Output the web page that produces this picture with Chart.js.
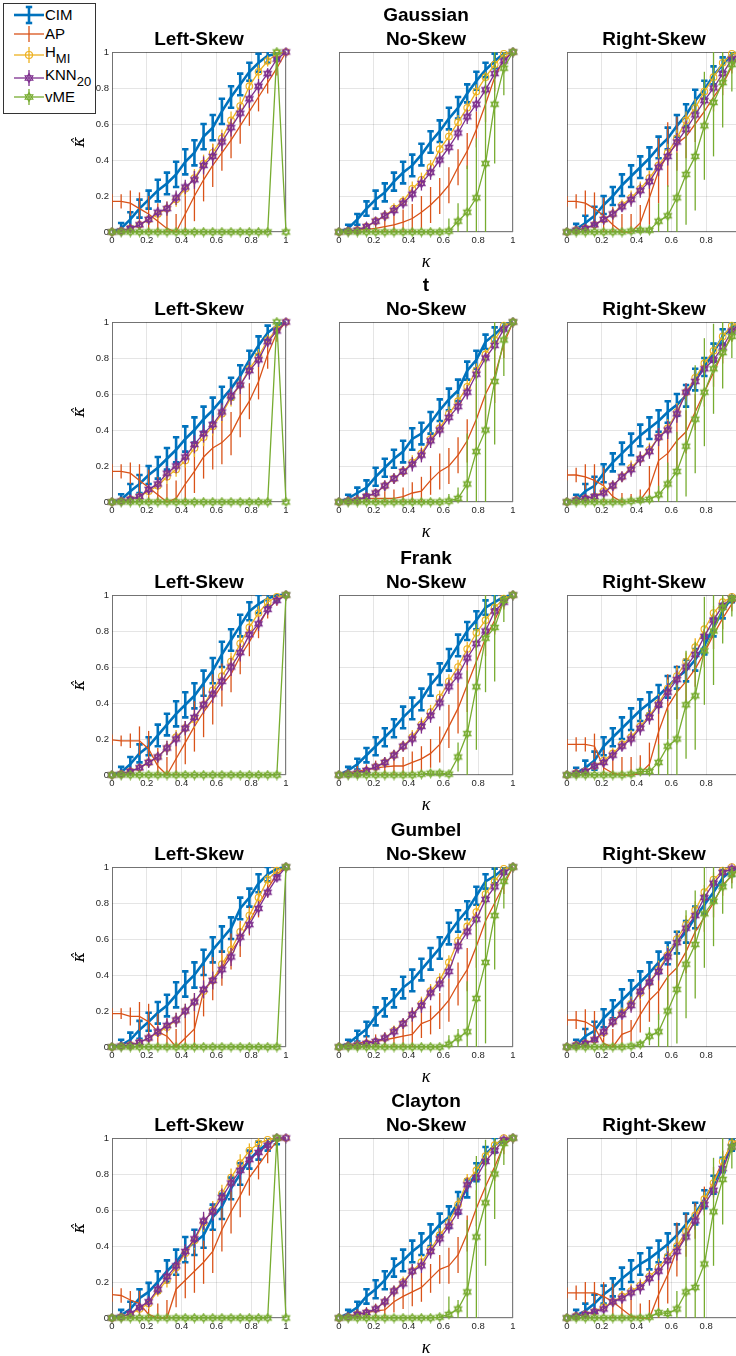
<!DOCTYPE html>
<html>
<head>
<meta charset="utf-8">
<script src="https://cdn.jsdelivr.net/npm/chart.js@4.4.1/dist/chart.umd.min.js"></script>
<style>
  html, body { margin: 0; padding: 0; background: #fff; overflow: hidden; width: 736px; height: 1356px; }
  body { position: relative; font-family: "Liberation Sans", Arial, sans-serif; }
  canvas { position: absolute; }
  #legend { position: absolute; left: 3px; top: 3px; width: 91px; height: 109px; border: 1px solid #333; background: #fff; z-index: 5; }
  .entry { position: absolute; left: 0; height: 20px; line-height: 20px; font-size: 15px; color: #000; white-space: nowrap; }
  .entry svg { position: absolute; left: 8px; top: 0; }
  .entry span.lbl { position: absolute; left: 41px; top: 0; }
  .entry sub { font-size: 13px; vertical-align: -6px; line-height: 0; }
</style>
</head>
<body>
<div id="legend"></div>
<script>
// x positions (kappa), 20 levels from 0 to 1
const kappa = [0, 0.0526, 0.1053, 0.1579, 0.2105, 0.2632, 0.3158, 0.3684, 0.4211, 0.4737,
               0.5263, 0.5789, 0.6316, 0.6842, 0.7368, 0.7895, 0.8421, 0.8947, 0.9474, 1];
const tickStep = 0.2;
const families = ['Gaussian', 't', 'Frank', 'Gumbel', 'Clayton'];
const skews = ['Left-Skew', 'No-Skew', 'Right-Skew'];
const seriesNames = ['CIM', 'AP', 'H_MI', 'KNN_20', 'vME'];

// ---- Gaussian ----
const gauL_cim = [0,0.02,0.07,0.13,0.18,0.23,0.27,0.32,0.39,0.44,0.53,0.58,0.67,0.75,0.82,0.89,0.94,0.98,0.99,1];
const gauL_ap  = [0.17,0.17,0.16,0.13,0.1,0.06,0.02,0,0.1,0.2,0.29,0.37,0.44,0.51,0.59,0.67,0.75,0.83,0.91,1];
const gauL_hmi = [0,0.005,0.02,0.04,0.07,0.1,0.13,0.18,0.24,0.3,0.38,0.44,0.52,0.62,0.7,0.81,0.89,0.95,0.99,1];
const gauL_knn = [0,0.005,0.02,0.04,0.07,0.11,0.13,0.19,0.25,0.29,0.37,0.42,0.5,0.58,0.66,0.74,0.81,0.88,0.96,1];
const gauL_vme = [0,0,0,0,0,0,0,0,0,0,0,0,0,0,0,0,0,0,1,0];
const gauL_apErr = [0.04,0.04,0.07,0.09,0.1,0.1,0.1,0.1,0.12,0.14,0.12,0.12,0.1,0.1,0.1,0.08,0.08,0.06,0.04,0.01];

const gauN_cim = [0,0.02,0.07,0.13,0.18,0.22,0.28,0.33,0.37,0.43,0.5,0.56,0.63,0.69,0.77,0.84,0.9,0.95,0.99,1];
const gauN_ap  = [0,0.005,0.01,0.015,0.02,0.03,0.04,0.055,0.075,0.11,0.15,0.2,0.26,0.36,0.45,0.57,0.71,0.86,0.96,1];
const gauN_hmi = [0,0.005,0.01,0.03,0.06,0.09,0.13,0.17,0.24,0.29,0.36,0.46,0.53,0.61,0.69,0.78,0.86,0.93,0.99,1];
const gauN_knn = [0,0.005,0.01,0.03,0.06,0.09,0.12,0.16,0.21,0.27,0.33,0.4,0.47,0.55,0.64,0.71,0.79,0.88,0.95,1];
const gauN_vme = [0,0,0,0,0,0,0,0,0,0,0,0,0.005,0.06,0.11,0.19,0.38,0.71,0.91,1];
const gauN_apErr  = [0.02,0.02,0.02,0.03,0.04,0.05,0.06,0.07,0.08,0.09,0.1,0.1,0.1,0.1,0.1,0.1,0.1,0.08,0.05,0.01];
const gauN_vmeErr = [0,0,0,0,0,0,0,0,0,0,0,0.01,0.07,0.1,0.26,0.33,0.5,0.33,0.15,0.01];

const gauR_cim = [0,0.015,0.05,0.09,0.15,0.2,0.26,0.31,0.36,0.41,0.47,0.52,0.59,0.65,0.73,0.79,0.87,0.93,0.99,1];
const gauR_ap  = [0.17,0.17,0.16,0.13,0.09,0.04,0,0,0.05,0.19,0.34,0.43,0.49,0.53,0.6,0.67,0.75,0.82,0.92,1];
const gauR_hmi = [0,0.01,0.02,0.04,0.07,0.1,0.15,0.19,0.24,0.3,0.37,0.44,0.52,0.62,0.69,0.78,0.86,0.94,0.99,1];
const gauR_knn = [0,0.01,0.02,0.04,0.07,0.1,0.14,0.18,0.23,0.28,0.36,0.42,0.5,0.57,0.65,0.73,0.8,0.88,0.96,1];
const gauR_vme = [0,0,0,0,0,0,0,0.005,0.01,0.01,0.06,0.09,0.19,0.32,0.42,0.59,0.72,0.83,0.93,1];
const gauR_apErr  = [0.03,0.04,0.07,0.09,0.1,0.1,0.1,0.1,0.1,0.15,0.18,0.18,0.15,0.12,0.1,0.08,0.08,0.06,0.04,0.01];
const gauR_vmeErr = [0,0,0,0,0,0,0,0.01,0.02,0.03,0.1,0.17,0.25,0.28,0.3,0.3,0.3,0.25,0.15,0.02];

// ---- t ----
const tL_cim = [0,0.013,0.06,0.1,0.15,0.19,0.24,0.29,0.35,0.4,0.46,0.51,0.57,0.63,0.7,0.79,0.87,0.94,0.98,1];
const tL_ap  = [0.17,0.17,0.16,0.12,0.08,0.04,0,0.02,0.1,0.17,0.25,0.3,0.33,0.38,0.48,0.56,0.67,0.82,0.94,1];
const tL_hmi = [0,0.005,0.015,0.03,0.06,0.09,0.14,0.18,0.23,0.3,0.36,0.42,0.49,0.58,0.65,0.74,0.81,0.9,0.96,1];
const tL_knn = [0,0.005,0.015,0.03,0.07,0.1,0.16,0.2,0.25,0.32,0.38,0.43,0.5,0.59,0.65,0.73,0.79,0.89,0.95,1];
const tL_vme = [0,0,0,0,0,0,0,0,0,0,0,0,0,0,0,0,0,0,1,0];
const tL_apErr = [0.04,0.04,0.06,0.09,0.1,0.1,0.1,0.1,0.12,0.12,0.12,0.12,0.12,0.12,0.12,0.1,0.1,0.08,0.05,0.01];

const tN_cim = [0,0.02,0.05,0.08,0.14,0.19,0.24,0.28,0.35,0.38,0.44,0.51,0.57,0.62,0.73,0.79,0.89,0.93,0.98,1];
const tN_ap  = [0,0.01,0.02,0.02,0.02,0.02,0.02,0.03,0.05,0.06,0.12,0.17,0.2,0.26,0.34,0.46,0.6,0.7,0.88,1];
const tN_hmi = [0,0.005,0.01,0.03,0.05,0.09,0.13,0.17,0.22,0.27,0.35,0.41,0.49,0.56,0.64,0.73,0.82,0.9,0.98,1];
const tN_knn = [0,0.005,0.01,0.03,0.05,0.09,0.13,0.17,0.21,0.26,0.34,0.4,0.47,0.53,0.61,0.71,0.8,0.87,0.96,1];
const tN_vme = [0,0,0,0,0,0,0,0,0,0,0,0,0.005,0.02,0.1,0.28,0.4,0.67,0.9,1];
const tN_apErr  = [0.02,0.02,0.02,0.03,0.04,0.04,0.05,0.05,0.06,0.08,0.08,0.1,0.1,0.1,0.12,0.2,0.2,0.15,0.08,0.01];
const tN_vmeErr = [0,0,0,0,0,0,0,0,0,0,0,0.005,0.04,0.06,0.28,0.45,0.4,0.35,0.2,0.01];

const tR_cim = [0,0.01,0.06,0.09,0.16,0.22,0.27,0.32,0.37,0.41,0.45,0.5,0.54,0.59,0.68,0.75,0.83,0.92,0.97,1];
const tR_ap  = [0.15,0.15,0.14,0.12,0.09,0.03,0,0.005,0.01,0.08,0.23,0.27,0.34,0.39,0.5,0.61,0.72,0.83,0.93,1];
const tR_hmi = [0,0.01,0.02,0.03,0.06,0.09,0.14,0.19,0.24,0.29,0.36,0.41,0.5,0.61,0.69,0.77,0.84,0.92,0.98,1];
const tR_knn = [0,0.01,0.02,0.03,0.05,0.09,0.14,0.18,0.24,0.28,0.36,0.4,0.49,0.61,0.67,0.74,0.79,0.86,0.95,1];
const tR_vme = [0,0,0,0,0,0,0,0.005,0.01,0.015,0.04,0.1,0.17,0.31,0.46,0.61,0.74,0.83,0.92,1];
const tR_apErr  = [0.03,0.04,0.07,0.09,0.1,0.08,0.05,0.04,0.06,0.12,0.18,0.18,0.15,0.12,0.1,0.08,0.08,0.06,0.04,0.01];
const tR_vmeErr = [0,0,0,0,0,0,0,0.01,0.01,0.02,0.05,0.12,0.22,0.28,0.3,0.3,0.25,0.2,0.12,0.02];

// ---- Frank ----
const frkL_cim = [0,0.015,0.06,0.12,0.16,0.22,0.28,0.34,0.39,0.44,0.51,0.58,0.67,0.75,0.83,0.91,0.95,0.98,1,1];
const frkL_ap  = [0.195,0.19,0.19,0.19,0.145,0.05,0,0.09,0.18,0.27,0.35,0.42,0.5,0.56,0.66,0.74,0.83,0.92,0.97,1];
const frkL_hmi = [0,0.005,0.02,0.04,0.07,0.1,0.15,0.21,0.26,0.31,0.39,0.47,0.55,0.63,0.73,0.82,0.9,0.96,0.99,1];
const frkL_knn = [0,0.005,0.02,0.04,0.07,0.1,0.15,0.2,0.26,0.32,0.39,0.45,0.52,0.6,0.68,0.78,0.84,0.92,0.97,1];
const frkL_vme = [0,0,0,0,0,0,0,0,0,0,0,0,0,0,0,0,0,0,0,1];
const frkL_apErr = [0.03,0.03,0.04,0.08,0.1,0.1,0.1,0.1,0.12,0.14,0.14,0.14,0.12,0.1,0.1,0.08,0.07,0.05,0.03,0.01];

const frkN_cim = [0,0.025,0.06,0.11,0.16,0.21,0.26,0.32,0.37,0.42,0.5,0.56,0.64,0.72,0.8,0.86,0.93,0.96,0.99,1];
const frkN_ap  = [0,0.01,0.02,0.03,0.04,0.045,0.05,0.05,0.07,0.09,0.12,0.17,0.27,0.37,0.5,0.63,0.76,0.86,0.97,1];
const frkN_hmi = [0,0.005,0.01,0.025,0.045,0.07,0.11,0.16,0.21,0.28,0.35,0.43,0.52,0.6,0.7,0.79,0.86,0.93,0.98,1];
const frkN_knn = [0,0.005,0.01,0.025,0.045,0.07,0.11,0.16,0.2,0.27,0.33,0.4,0.49,0.55,0.65,0.73,0.8,0.91,0.96,1];
const frkN_vme = [0,0,0,0,0,0,0,0,0,0.005,0.01,0.01,0.005,0.1,0.23,0.49,0.76,0.82,0.97,1];
const frkN_apErr  = [0.02,0.02,0.03,0.03,0.04,0.04,0.05,0.05,0.06,0.07,0.08,0.1,0.12,0.14,0.15,0.12,0.1,0.08,0.05,0.01];
const frkN_vmeErr = [0,0,0,0,0,0,0,0,0,0.005,0.01,0.01,0.01,0.08,0.35,0.35,0.3,0.3,0.12,0.01];

const frkR_cim = [0,0.01,0.04,0.08,0.16,0.21,0.26,0.31,0.36,0.4,0.44,0.49,0.54,0.58,0.64,0.72,0.82,0.91,0.99,1];
const frkR_ap  = [0.17,0.17,0.17,0.16,0.04,0.01,0,0,0.01,0.06,0.24,0.38,0.46,0.52,0.59,0.68,0.78,0.87,0.95,1];
const frkR_hmi = [0,0.01,0.02,0.05,0.08,0.12,0.17,0.21,0.27,0.33,0.4,0.48,0.55,0.63,0.71,0.81,0.9,0.96,0.99,1];
const frkR_knn = [0,0.01,0.02,0.05,0.07,0.11,0.16,0.2,0.26,0.32,0.39,0.46,0.53,0.6,0.67,0.77,0.86,0.94,0.98,1];
const frkR_vme = [0,0,0,0,0,0,0,0.005,0.02,0.02,0.07,0.16,0.2,0.39,0.44,0.69,0.8,0.93,0.98,1];
const frkR_apErr  = [0.03,0.04,0.04,0.07,0.1,0.1,0.1,0.1,0.1,0.12,0.18,0.18,0.15,0.12,0.1,0.08,0.08,0.06,0.04,0.01];
const frkR_vmeErr = [0,0,0,0,0,0,0,0.01,0.02,0.03,0.1,0.2,0.3,0.3,0.3,0.3,0.3,0.2,0.1,0.02];

// ---- Gumbel ----
const gumL_cim = [0,0.01,0.04,0.095,0.14,0.19,0.23,0.29,0.35,0.4,0.47,0.54,0.6,0.66,0.77,0.83,0.91,0.96,0.99,1];
const gumL_ap  = [0.185,0.185,0.17,0.17,0.14,0.085,0.06,0,0.05,0.1,0.31,0.38,0.44,0.53,0.6,0.7,0.79,0.88,0.96,1];
const gumL_hmi = [0,0.005,0.01,0.025,0.05,0.08,0.11,0.15,0.2,0.25,0.31,0.37,0.46,0.54,0.64,0.73,0.83,0.93,0.98,1];
const gumL_knn = [0,0.005,0.01,0.025,0.05,0.085,0.12,0.15,0.2,0.25,0.32,0.37,0.43,0.5,0.61,0.68,0.77,0.86,0.94,1];
const gumL_vme = [0,0,0,0,0,0,0,0,0,0,0,0,0,0,0,0,0,0,0,1];
const gumL_apErr = [0.03,0.03,0.05,0.08,0.1,0.1,0.1,0.1,0.12,0.12,0.14,0.12,0.1,0.1,0.1,0.08,0.07,0.05,0.03,0.01];

const gumN_cim = [0,0.02,0.06,0.1,0.17,0.22,0.27,0.33,0.37,0.43,0.49,0.55,0.63,0.7,0.76,0.84,0.92,0.95,0.99,1];
const gumN_ap  = [0,0.01,0.02,0.03,0.03,0.04,0.05,0.06,0.07,0.13,0.15,0.2,0.26,0.35,0.43,0.56,0.7,0.8,0.9,1];
const gumN_hmi = [0,0.005,0.01,0.02,0.03,0.05,0.09,0.13,0.18,0.24,0.31,0.37,0.47,0.59,0.67,0.75,0.85,0.92,0.99,1];
const gumN_knn = [0,0.005,0.01,0.02,0.03,0.05,0.085,0.13,0.18,0.23,0.3,0.35,0.42,0.56,0.64,0.71,0.82,0.89,0.97,1];
const gumN_vme = [0,0,0,0,0,0,0,0,0,0,0,0,0.015,0.05,0.085,0.27,0.47,0.73,0.92,1];
const gumN_apErr  = [0.02,0.02,0.02,0.03,0.04,0.04,0.05,0.06,0.08,0.08,0.08,0.1,0.12,0.12,0.12,0.12,0.1,0.08,0.05,0.01];
const gumN_vmeErr = [0,0,0,0,0,0,0,0,0,0,0,0,0.05,0.05,0.28,0.45,0.45,0.3,0.15,0.01];

const gumR_cim = [0,0.01,0.06,0.09,0.16,0.21,0.26,0.31,0.36,0.41,0.47,0.52,0.58,0.64,0.72,0.79,0.86,0.94,0.98,1];
const gumR_ap  = [0.15,0.15,0.14,0.11,0.02,0,0.07,0.09,0.18,0.26,0.31,0.39,0.44,0.53,0.64,0.72,0.8,0.9,0.95,1];
const gumR_hmi = [0,0.01,0.02,0.04,0.08,0.14,0.19,0.24,0.3,0.36,0.43,0.51,0.6,0.68,0.76,0.86,0.93,0.98,1,1];
const gumR_knn = [0,0.01,0.02,0.04,0.085,0.14,0.18,0.23,0.31,0.36,0.42,0.5,0.58,0.66,0.73,0.83,0.91,0.97,0.99,1];
const gumR_vme = [0,0,0,0,0,0,0,0.005,0.015,0.06,0.085,0.2,0.32,0.46,0.57,0.74,0.81,0.89,0.96,1];
const gumR_apErr  = [0.03,0.05,0.07,0.09,0.1,0.1,0.08,0.06,0.1,0.12,0.16,0.16,0.14,0.12,0.1,0.08,0.08,0.06,0.04,0.01];
const gumR_vmeErr = [0,0,0,0,0,0,0,0.01,0.02,0.05,0.1,0.2,0.3,0.3,0.3,0.3,0.25,0.15,0.08,0.02];

// ---- Clayton ----
const clayL_cim = [0,0.015,0.05,0.11,0.145,0.2,0.26,0.31,0.38,0.42,0.46,0.56,0.62,0.72,0.8,0.88,0.93,0.97,0.995,1];
const clayL_ap  = [0.13,0.125,0.1,0.08,0.02,0,0,0.16,0.21,0.26,0.31,0.37,0.49,0.59,0.68,0.78,0.85,0.92,0.98,1];
const clayL_hmi = [0,0.005,0.02,0.05,0.08,0.15,0.21,0.28,0.36,0.43,0.53,0.6,0.69,0.78,0.86,0.93,0.97,0.99,1,1];
const clayL_knn = [0,0.005,0.025,0.06,0.09,0.16,0.23,0.29,0.37,0.44,0.54,0.59,0.67,0.75,0.82,0.88,0.92,0.96,1,1];
const clayL_vme = [0,0,0,0,0,0,0,0,0,0,0,0,0,0,0,0,0,0,1,0];
const clayL_apErr = [0.04,0.04,0.05,0.07,0.08,0.08,0.1,0.1,0.1,0.12,0.12,0.12,0.12,0.12,0.12,0.1,0.08,0.06,0.03,0.01];

const clayN_cim = [0,0.025,0.06,0.12,0.16,0.21,0.28,0.32,0.37,0.41,0.46,0.52,0.56,0.64,0.72,0.81,0.91,0.96,0.995,1];
const clayN_ap  = [0,0.01,0.02,0.03,0.04,0.045,0.09,0.12,0.145,0.17,0.22,0.27,0.29,0.35,0.47,0.61,0.73,0.84,0.96,1];
const clayN_hmi = [0,0.005,0.02,0.03,0.05,0.09,0.15,0.2,0.26,0.31,0.38,0.46,0.53,0.63,0.76,0.82,0.9,0.96,1,1];
const clayN_knn = [0,0.005,0.02,0.03,0.05,0.09,0.15,0.19,0.26,0.29,0.37,0.44,0.51,0.59,0.74,0.78,0.87,0.93,0.99,1];
const clayN_vme = [0,0,0,0,0,0,0,0,0,0,0,0.005,0.02,0.05,0.145,0.45,0.64,0.8,0.97,1];
const clayN_apErr  = [0.02,0.02,0.03,0.03,0.04,0.05,0.06,0.07,0.08,0.08,0.08,0.08,0.1,0.1,0.1,0.1,0.1,0.08,0.05,0.01];
const clayN_vmeErr = [0,0,0,0,0,0,0,0,0,0,0,0.01,0.1,0.05,0.4,0.45,0.35,0.25,0.12,0.01];

const clayR_cim = [0,0.015,0.04,0.08,0.13,0.17,0.22,0.26,0.3,0.33,0.37,0.41,0.46,0.52,0.58,0.66,0.74,0.85,0.96,1];
const clayR_ap  = [0.14,0.14,0.14,0.14,0.12,0.09,0.05,0.01,0,0,0.13,0.24,0.38,0.46,0.54,0.65,0.76,0.87,0.97,1];
const clayR_hmi = [0,0.01,0.02,0.035,0.06,0.09,0.12,0.15,0.18,0.23,0.28,0.34,0.4,0.48,0.57,0.66,0.75,0.87,0.97,1];
const clayR_knn = [0,0.01,0.02,0.035,0.05,0.09,0.11,0.14,0.17,0.22,0.26,0.32,0.37,0.45,0.54,0.63,0.71,0.83,0.95,1];
const clayR_vme = [0,0,0,0,0,0,0,0,0,0.005,0.03,0.025,0.05,0.145,0.17,0.3,0.59,0.77,0.95,1];
const clayR_apErr  = [0.03,0.04,0.06,0.06,0.08,0.1,0.1,0.1,0.08,0.1,0.14,0.16,0.15,0.12,0.1,0.08,0.08,0.06,0.04,0.01];
const clayR_vmeErr = [0,0,0,0,0,0,0,0,0,0.01,0.02,0.03,0.1,0.35,0.35,0.35,0.3,0.25,0.12,0.02];

// error bars that look alike across the copulas, per skew type
const cimErrLeft  = [0.01,0.03,0.04,0.05,0.05,0.06,0.06,0.07,0.07,0.07,0.07,0.07,0.07,0.06,0.06,0.05,0.05,0.04,0.03,0.01];
const cimErrNo    = [0.01,0.02,0.03,0.04,0.05,0.05,0.05,0.06,0.06,0.06,0.06,0.06,0.06,0.06,0.05,0.05,0.04,0.04,0.02,0.01];
const cimErrRight = [0.01,0.03,0.04,0.05,0.05,0.05,0.06,0.06,0.06,0.06,0.06,0.06,0.06,0.06,0.06,0.05,0.05,0.04,0.03,0.01];
const hmiErrLeft  = [0.01,0.01,0.02,0.02,0.03,0.03,0.04,0.04,0.04,0.05,0.05,0.05,0.05,0.05,0.05,0.04,0.04,0.03,0.02,0.01];
const hmiErrNo    = [0.01,0.01,0.01,0.02,0.02,0.03,0.03,0.03,0.04,0.04,0.04,0.04,0.04,0.04,0.04,0.04,0.03,0.03,0.02,0.01];
const hmiErrRight = [0.01,0.01,0.02,0.02,0.03,0.03,0.03,0.04,0.04,0.04,0.05,0.05,0.05,0.05,0.05,0.04,0.04,0.03,0.02,0.01];
const knnErrLeft  = [0.01,0.01,0.02,0.02,0.03,0.03,0.04,0.04,0.04,0.05,0.05,0.05,0.05,0.05,0.05,0.05,0.04,0.03,0.02,0.01];
const knnErrNo    = [0.01,0.01,0.01,0.02,0.02,0.03,0.03,0.03,0.04,0.04,0.04,0.04,0.04,0.04,0.04,0.04,0.03,0.03,0.02,0.01];
const knnErrRight = [0.01,0.01,0.02,0.02,0.03,0.03,0.03,0.04,0.04,0.04,0.05,0.05,0.05,0.05,0.05,0.04,0.04,0.03,0.02,0.01];
const vmeErrNone  = [0,0,0,0,0,0,0,0,0,0,0,0,0,0,0,0,0,0,0,0];

const cimErr = [cimErrLeft, cimErrNo, cimErrRight];
const hmiErr = [hmiErrLeft, hmiErrNo, hmiErrRight];
const knnErr = [knnErrLeft, knnErrNo, knnErrRight];

// rows = copula family, cols = skew
const panelMeans = [
  [[gauL_cim, gauL_ap, gauL_hmi, gauL_knn, gauL_vme], [gauN_cim, gauN_ap, gauN_hmi, gauN_knn, gauN_vme], [gauR_cim, gauR_ap, gauR_hmi, gauR_knn, gauR_vme]],
  [[tL_cim, tL_ap, tL_hmi, tL_knn, tL_vme], [tN_cim, tN_ap, tN_hmi, tN_knn, tN_vme], [tR_cim, tR_ap, tR_hmi, tR_knn, tR_vme]],
  [[frkL_cim, frkL_ap, frkL_hmi, frkL_knn, frkL_vme], [frkN_cim, frkN_ap, frkN_hmi, frkN_knn, frkN_vme], [frkR_cim, frkR_ap, frkR_hmi, frkR_knn, frkR_vme]],
  [[gumL_cim, gumL_ap, gumL_hmi, gumL_knn, gumL_vme], [gumN_cim, gumN_ap, gumN_hmi, gumN_knn, gumN_vme], [gumR_cim, gumR_ap, gumR_hmi, gumR_knn, gumR_vme]],
  [[clayL_cim, clayL_ap, clayL_hmi, clayL_knn, clayL_vme], [clayN_cim, clayN_ap, clayN_hmi, clayN_knn, clayN_vme], [clayR_cim, clayR_ap, clayR_hmi, clayR_knn, clayR_vme]]
];
const panelApErr = [
  [gauL_apErr, gauN_apErr, gauR_apErr],
  [tL_apErr, tN_apErr, tR_apErr],
  [frkL_apErr, frkN_apErr, frkR_apErr],
  [gumL_apErr, gumN_apErr, gumR_apErr],
  [clayL_apErr, clayN_apErr, clayR_apErr]
];
const panelVmeErr = [
  [vmeErrNone, gauN_vmeErr, gauR_vmeErr],
  [vmeErrNone, tN_vmeErr, tR_vmeErr],
  [vmeErrNone, frkN_vmeErr, frkR_vmeErr],
  [vmeErrNone, gumN_vmeErr, gumR_vmeErr],
  [vmeErrNone, clayN_vmeErr, clayR_vmeErr]
];

// ---- styling / layout ----
const colors = ['#0072BD', '#D95319', '#EDB120', '#7E2F8E', '#77AC30'];
const lineWidths = [2.6, 1.3, 1.3, 1.3, 1.3];
const capHalf = [3.2, 0, 0, 0, 0];
const colLeft = [112, 339, 567];
const rowTop = [52, 322, 595, 867, 1138];
const plotW = 174, plotH = 180;
const yAxisW = 50, xAxisH = 40, titleH = 48, padRight = 14;
const sansFont = '"Liberation Sans", Arial, Helvetica, sans-serif';
const kappaFont = '"Liberation Serif", "DejaVu Serif", serif';
const kappaHatFont = '"DejaVu Serif", serif';
const textColor = '#262626';

function hexagram(color) {
  const c = document.createElement('canvas');
  c.width = 11; c.height = 11;
  const g = c.getContext('2d');
  g.strokeStyle = color;
  g.lineWidth = 1.1;
  [-90, 90].forEach(start => {
    g.beginPath();
    for (let k = 0; k < 3; k++) {
      const a = (start + k * 120) * Math.PI / 180;
      const px = 5.5 + 4.3 * Math.cos(a), py = 5.5 + 4.3 * Math.sin(a);
      if (k === 0) g.moveTo(px, py); else g.lineTo(px, py);
    }
    g.closePath();
    g.stroke();
  });
  return c;
}
const pointStyles = [false, false, 'circle', hexagram(colors[3]), hexagram(colors[4])];
const pointRadii = [0, 0, 3.3, 4.5, 4.5];

// box around the axes (MATLAB "box on")
const boxPlugin = {
  id: 'axesBox',
  beforeDatasetsDraw(chart) {
    const { ctx, chartArea: a } = chart;
    ctx.save();
    ctx.strokeStyle = 'rgba(38,38,38,0.6)';
    ctx.lineWidth = 1;
    ctx.strokeRect(Math.round(a.left) + 0.5, Math.round(a.top) + 0.5, Math.round(a.right - a.left) - 1, Math.round(a.bottom - a.top) - 1);
    ctx.restore();
  }
};

// vertical error bars, drawn right after each series so layering follows the series
const errorBarPlugin = {
  id: 'errorBars',
  afterDatasetDraw(chart, args) {
    const ds = chart.data.datasets[args.index];
    if (!ds.errors) return;
    const { ctx, chartArea: a, scales } = chart;
    ctx.save();
    ctx.beginPath();
    ctx.rect(a.left, a.top, a.right - a.left, a.bottom - a.top);
    ctx.clip();
    ctx.strokeStyle = ds.borderColor;
    ctx.lineWidth = ds.errorWidth;
    ds.data.forEach((p, i) => {
      const e = ds.errors[i];
      if (!e) return;
      const x = scales.x.getPixelForValue(p.x);
      const yLo = scales.y.getPixelForValue(p.y - e);
      const yHi = scales.y.getPixelForValue(p.y + e);
      ctx.beginPath();
      ctx.moveTo(x, yLo);
      ctx.lineTo(x, yHi);
      if (ds.capHalf) {
        ctx.moveTo(x - ds.capHalf, yLo); ctx.lineTo(x + ds.capHalf, yLo);
        ctx.moveTo(x - ds.capHalf, yHi); ctx.lineTo(x + ds.capHalf, yHi);
      }
      ctx.stroke();
    });
    ctx.restore();
  }
};

const tickLabel = v => String(Math.round(v * 10) / 10);

function makePanel(row, col) {
  const canvas = document.createElement('canvas');
  canvas.width = yAxisW + plotW + padRight;
  canvas.height = titleH + plotH + xAxisH;
  canvas.style.left = (colLeft[col] - yAxisW) + 'px';
  canvas.style.top = (rowTop[row] - titleH) + 'px';
  document.body.appendChild(canvas);

  const means = panelMeans[row][col];
  const errs = [cimErr[col], panelApErr[row][col], hmiErr[col], knnErr[col], panelVmeErr[row][col]];
  const title = col === 1 ? [families[row], skews[col]] : skews[col];

  const datasets = seriesNames.map((name, k) => ({
    label: name,
    data: kappa.map((x, i) => ({ x: x, y: means[k][i] })),
    errors: errs[k],
    errorWidth: lineWidths[k],
    capHalf: capHalf[k],
    borderColor: colors[k],
    borderWidth: lineWidths[k],
    pointStyle: pointStyles[k],
    pointRadius: pointRadii[k],
    pointBorderColor: colors[k],
    pointBackgroundColor: 'rgba(0,0,0,0)',
    pointBorderWidth: 1.1,
    tension: 0,
    clip: false,
    order: 4 - k
  }));

  new Chart(canvas, {
    type: 'line',
    data: { datasets: datasets },
    options: {
      responsive: false,
      animation: false,
      devicePixelRatio: 1,
      events: [],
      layout: { padding: { left: 0, right: padRight, top: 0, bottom: 0 } },
      plugins: {
        legend: { display: false },
        tooltip: { enabled: false },
        title: {
          display: true,
          text: title,
          fullSize: false,
          color: '#000',
          font: { family: sansFont, size: 19, weight: 'bold', lineHeight: '24px' },
          padding: { top: col === 1 ? 0 : 24, bottom: 0 }
        }
      },
      scales: {
        x: {
          type: 'linear', min: 0, max: 1,
          ticks: { stepSize: tickStep, color: textColor, padding: 3, maxRotation: 0, callback: tickLabel, font: { family: sansFont, size: 9.5 } },
          grid: { color: 'rgba(38,38,38,0.12)', drawTicks: false },
          border: { display: false },
          title: {
            display: col === 1,
            text: '\u03BA',
            color: '#000',
            font: { family: kappaFont, size: 18, style: 'italic', lineHeight: '20px' },
            padding: { top: 0, bottom: 0 }
          },
          afterFit: s => { s.height = xAxisH; }
        },
        y: {
          min: 0, max: 1,
          ticks: { display: col === 0, stepSize: tickStep, color: textColor, padding: 3, callback: tickLabel, font: { family: sansFont, size: 9.5 } },
          grid: { color: 'rgba(38,38,38,0.12)', drawTicks: false },
          border: { display: false },
          title: {
            display: col === 0,
            text: '\u03BA\u0302',
            color: '#000',
            font: { family: kappaHatFont, size: 16, style: 'italic', lineHeight: '20px' },
            padding: { top: 8, bottom: 0 }
          },
          afterFit: s => { s.width = yAxisW; }
        }
      }
    },
    plugins: [boxPlugin, errorBarPlugin]
  });
}

for (let r = 0; r < families.length; r++) {
  for (let c = 0; c < skews.length; c++) makePanel(r, c);
}

// legend (HTML, MATLAB style icons)
const legendRows = [
  { top: 1, html: 'CIM' },
  { top: 20, html: 'AP' },
  { top: 38, html: 'H<sub>MI</sub>' },
  { top: 61, html: 'KNN<sub>20</sub>' },
  { top: 83, html: 'vME' }
];
function hexPath(cx, cy, r) {
  const tri = start => [0, 1, 2].map(k => {
    const a = (start + k * 120) * Math.PI / 180;
    return (cx + r * Math.cos(a)).toFixed(2) + ',' + (cy + r * Math.sin(a)).toFixed(2);
  }).join(' ');
  return [tri(-90), tri(90)];
}
const legend = document.getElementById('legend');
legendRows.forEach((row, k) => {
  const div = document.createElement('div');
  div.className = 'entry';
  div.style.top = row.top + 'px';
  const col = colors[k], w = lineWidths[k];
  const iconDy = (k === 2 || k === 3) ? 3 : 0;
  const cy = 10 + iconDy;
  let svg = '<svg width="34" height="26" viewBox="0 0 34 26">';
  svg += '<line x1="2" y1="' + cy + '" x2="32" y2="' + cy + '" stroke="' + col + '" stroke-width="' + w + '"/>';
  svg += '<line x1="17" y1="' + (cy - 8) + '" x2="17" y2="' + (cy + 8) + '" stroke="' + col + '" stroke-width="' + w + '"/>';
  if (capHalf[k]) {
    svg += '<line x1="' + (17 - capHalf[k]) + '" y1="' + (cy - 8) + '" x2="' + (17 + capHalf[k]) + '" y2="' + (cy - 8) + '" stroke="' + col + '" stroke-width="' + w + '"/>';
    svg += '<line x1="' + (17 - capHalf[k]) + '" y1="' + (cy + 8) + '" x2="' + (17 + capHalf[k]) + '" y2="' + (cy + 8) + '" stroke="' + col + '" stroke-width="' + w + '"/>';
  }
  if (k === 2) svg += '<circle cx="17" cy="' + cy + '" r="3.5" fill="none" stroke="' + col + '" stroke-width="1.2"/>';
  if (k >= 3) hexPath(17, cy, 4.5).forEach(p => { svg += '<polygon points="' + p + '" fill="none" stroke="' + col + '" stroke-width="1.1"/>'; });
  svg += '</svg>';
  div.innerHTML = svg + '<span class="lbl">' + row.html + '</span>';
  legend.appendChild(div);
});
</script>
</body>
</html>
